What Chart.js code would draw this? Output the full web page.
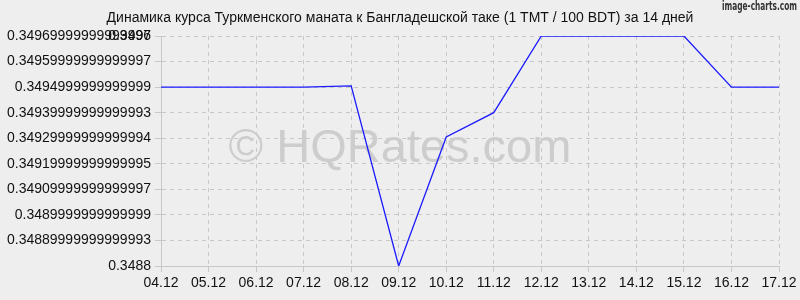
<!DOCTYPE html>
<html>
<head>
<meta charset="utf-8">
<script src="https://cdn.jsdelivr.net/npm/chart.js@4/dist/chart.umd.min.js"></script>
<style>
html,body{margin:0;padding:0;background:#eeeeee;}
#wrap{width:800px;height:300px;position:relative;}
</style>
</head>
<body>
<div id="wrap"><canvas id="c" width="800" height="300"></canvas></div>
<script>
const titleText = "Динамика курса Туркменского маната к Бангладешской таке (1 TMT / 100 BDT) за 14 дней";
const categories = ["04.12","05.12","06.12","07.12","08.12","09.12","10.12","11.12","12.12","13.12","14.12","15.12","16.12","17.12"];
const rates = [0.3495,0.3495,0.3495,0.3495,0.349505,0.3488,0.349305,0.3494,0.3497,0.3497,0.3497,0.3497,0.3495,0.3495];
const tickValues = [0.3488,0.34889999999999993,0.3489999999999999,0.34909999999999997,0.34919999999999995,0.34929999999999994,0.34939999999999993,0.3494999999999999,0.34959999999999997,0.34969999999999996,0.3497];
const tickLabels = ["0.3488","0.34889999999999993","0.3489999999999999","0.34909999999999997","0.34919999999999995","0.34929999999999994","0.34939999999999993","0.3494999999999999","0.34959999999999997","0.34969999999999996","0.3497"];
const yMin = 0.3488, yMax = 0.3497;

const FONT = "'Liberation Sans', Arial, sans-serif";
const gridColor = "#c8c8c8";

const decor = {
  id: 'decor',
  beforeDraw(chart) {
    const ctx = chart.ctx;
    ctx.save();
    ctx.fillStyle = '#eeeeee';
    ctx.fillRect(0, 0, chart.width, chart.height);
    ctx.restore();
  },
  beforeDatasetsDraw(chart) {
    const ctx = chart.ctx;
    ctx.save();
    ctx.fillStyle = '#cdcdcd';
    ctx.font = "47px " + FONT;
    ctx.textAlign = 'center';
    ctx.textBaseline = 'alphabetic';
    ctx.fillText("© HQRates.com", 400, 162);
    ctx.restore();
  },
  afterDraw(chart) {
    const ctx = chart.ctx;
    ctx.save();
    ctx.fillStyle = '#111111';
    ctx.font = "14px " + FONT;
    ctx.textAlign = 'center';
    ctx.textBaseline = 'middle';
    ctx.fillText(titleText, 400, 18);
    ctx.fillStyle = '#333333';
    ctx.font = "bold 12px 'DejaVu Sans Condensed', 'DejaVu Sans', sans-serif";
    ctx.textAlign = 'right';
    ctx.fillText("image-charts.com", 797, 7, 75);
    ctx.restore();
  }
};

new Chart(document.getElementById('c'), {
  type: 'line',
  data: {
    labels: categories,
    datasets: [{
      data: rates,
      borderColor: '#1a1aff',
      borderWidth: 1.3,
      pointRadius: 0,
      tension: 0,
      fill: false
    }]
  },
  options: {
    responsive: false,
    animation: false,
    devicePixelRatio: 1,
    layout: { padding: { left: 0, right: 21, top: 36, bottom: 0 } },
    plugins: { legend: { display: false }, title: { display: false }, tooltip: { enabled: false } },
    scales: {
      x: {
        type: 'category',
        offset: false,
        grid: { color: gridColor, tickLength: 6, tickColor: gridColor },
        border: { color: gridColor, dash: [4, 4] },
        ticks: { color: '#111111', font: { family: FONT, size: 14 }, padding: 3, maxRotation: 0, autoSkip: false },
        afterFit(s) { s.height = 34; }
      },
      y: {
        min: yMin, max: yMax,
        grid: { color: gridColor, tickLength: 6, tickColor: gridColor },
        border: { color: gridColor, dash: [4, 4] },
        ticks: {
          color: '#111111', font: { family: FONT, size: 14 }, padding: 4, autoSkip: false,
          callback: (v, i) => tickLabels[i]
        },
        afterBuildTicks(s) { s.ticks = tickValues.map(v => ({ value: v })); },
        afterFit(s) { s.width = 161; }
      }
    }
  },
  plugins: [decor]
});
</script>
</body>
</html>
